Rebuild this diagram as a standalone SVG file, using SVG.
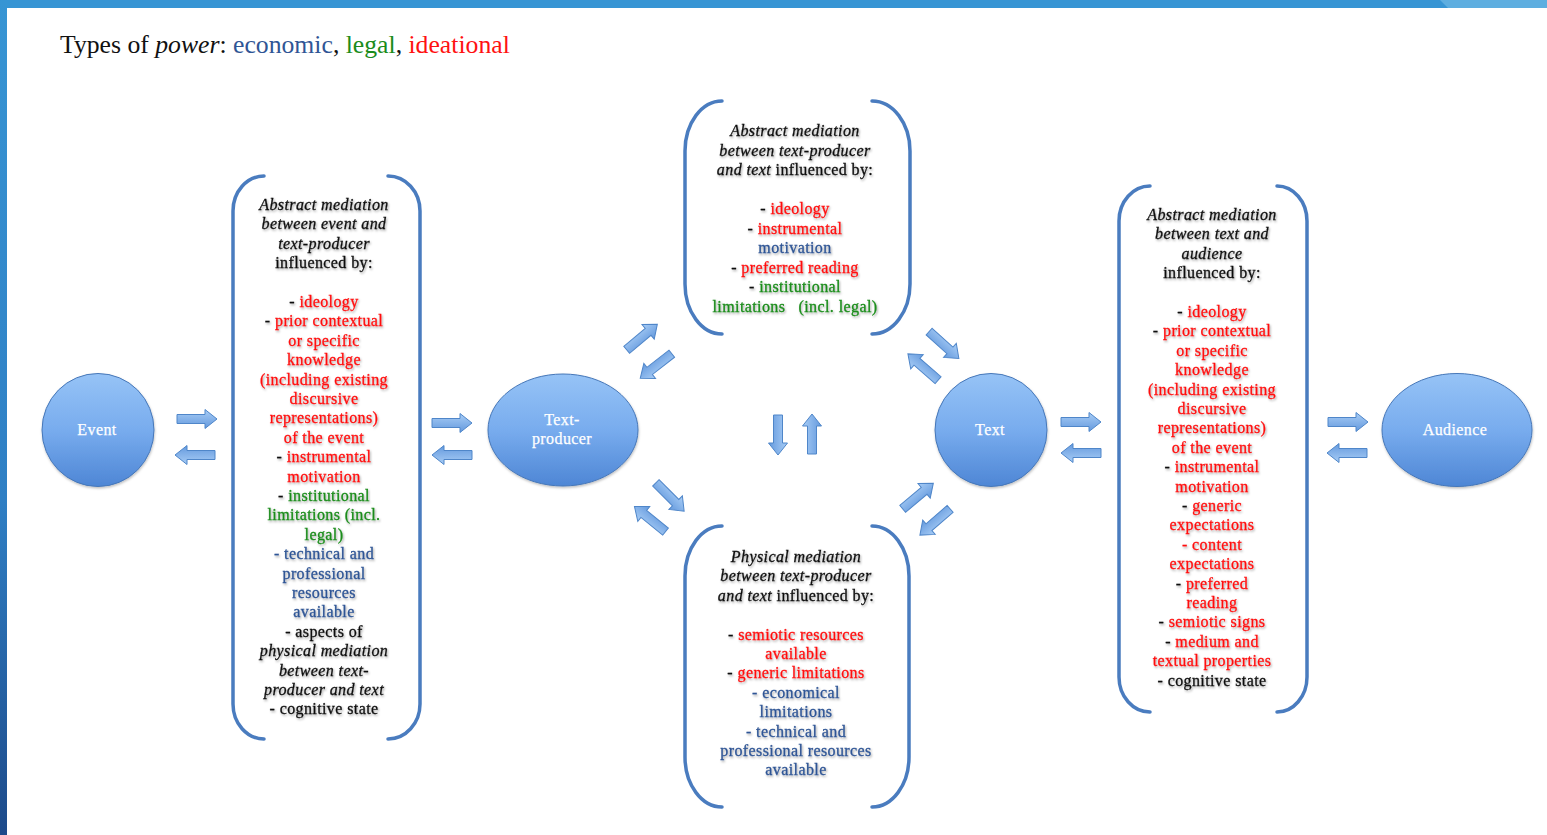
<svg xmlns="http://www.w3.org/2000/svg" width="1547" height="835" viewBox="0 0 1547 835">
<defs>
<linearGradient id="gNode" x1="0" y1="0" x2="0" y2="1">
<stop offset="0" stop-color="#96c3f6"/><stop offset="0.5" stop-color="#78acee"/><stop offset="1" stop-color="#4e86d5"/>
</linearGradient>
<linearGradient id="gArrow" x1="0" y1="0" x2="0" y2="1">
<stop offset="0" stop-color="#a8cdf6"/><stop offset="1" stop-color="#6499dd"/>
</linearGradient>
<linearGradient id="gLeft" x1="0" y1="0" x2="0" y2="1">
<stop offset="0" stop-color="#3795d4"/><stop offset="0.6" stop-color="#2f7fc4"/><stop offset="1" stop-color="#1d4a8a"/>
</linearGradient>
<filter id="sh" x="-10%" y="-30%" width="120%" height="160%">
<feDropShadow dx="1" dy="1.5" stdDeviation="1" flood-color="#000" flood-opacity="0.35"/>
</filter>
<filter id="shs" x="-10%" y="-10%" width="120%" height="120%">
<feDropShadow dx="0.5" dy="1.5" stdDeviation="1" flood-color="#000" flood-opacity="0.25"/>
</filter>
<path id="arr" d="M-20,-4.5 H8 V-9.5 L20,0 L8,9.5 V4.5 H-20 Z"/>
</defs>
<style>
.t{font-family:"Liberation Serif","Times New Roman",serif;font-size:16px;letter-spacing:0.4px;text-anchor:middle;stroke-width:0.3px}
.i{font-style:italic}
.k{fill:#111;stroke:#111}
.r{fill:#ff1111;stroke:#ff1111}
.g{fill:#1b8c1b;stroke:#1b8c1b}
.b{fill:#2f5595;stroke:#2f5595}
.node{fill:url(#gNode);stroke:#4677b8;stroke-width:1}
.nl{font-family:"Liberation Serif","Times New Roman",serif;font-size:16px;letter-spacing:0.4px;fill:#fff;stroke:#fff;stroke-width:0.25px;text-anchor:middle}
.br{fill:none;stroke:#4a7cbf;stroke-width:3.5;stroke-linecap:round}
.ar{fill:url(#gArrow);stroke:#4f86c9;stroke-width:1}
</style>
<rect x="0" y="0" width="1547" height="835" fill="#fff"/>
<g id="frame">
<rect x="0" y="0" width="1547" height="8" fill="#3795d4"/>
<polygon points="1440,0 1547,0 1547,8 1448,8" fill="#5eaee0"/>
<rect x="0" y="0" width="7" height="835" fill="url(#gLeft)"/>
</g>
<g id="title" font-family="'Liberation Serif','Times New Roman',serif" font-size="25.7">
<text x="60" y="53"><tspan fill="#111">Types of </tspan><tspan fill="#111" font-style="italic">power</tspan><tspan fill="#111">: </tspan><tspan fill="#2f5595">economic</tspan><tspan fill="#111">, </tspan><tspan fill="#1b8c1b">legal</tspan><tspan fill="#111">, </tspan><tspan fill="#ff1111">ideational</tspan></text>
</g>

<g id="node-event">
<ellipse class="node" cx="98" cy="430" rx="56" ry="56.5" filter="url(#shs)"/>
<text class="nl" x="97" y="435">Event</text>
</g>
<g id="node-textproducer">
<ellipse class="node" cx="563" cy="430" rx="75" ry="56" filter="url(#shs)"/>
<text class="nl" x="562" y="425">Text-</text>
<text class="nl" x="562" y="444">producer</text>
</g>
<g id="node-text">
<ellipse class="node" cx="991" cy="430" rx="56" ry="56.5" filter="url(#shs)"/>
<text class="nl" x="990" y="435">Text</text>
</g>
<g id="node-audience">
<ellipse class="node" cx="1457" cy="430" rx="75" ry="56.5" filter="url(#shs)"/>
<text class="nl" x="1455" y="435">Audience</text>
</g>

<g id="box-left">
<path class="br" d="M264,176 A31,35 0 0 0 233,211 V704 A31,35 0 0 0 264,739"/>
<path class="br" d="M388,176 A32,35 0 0 1 420,211 V704 A32,35 0 0 1 388,739"/>
<g filter="url(#sh)">
<text class="t i k" x="324" y="210">Abstract mediation</text>
<text class="t i k" x="324" y="229.4">between event and</text>
<text class="t i k" x="324" y="248.8">text-producer</text>
<text class="t k" x="324" y="268.2">influenced by:</text>
<text class="t" x="324" y="307"><tspan class="k">- </tspan><tspan class="r">ideology</tspan></text>
<text class="t" x="324" y="326.4"><tspan class="k">- </tspan><tspan class="r">prior contextual</tspan></text>
<text class="t r" x="324" y="345.8">or specific</text>
<text class="t r" x="324" y="365.2">knowledge</text>
<text class="t r" x="324" y="384.6">(including existing</text>
<text class="t r" x="324" y="404">discursive</text>
<text class="t r" x="324" y="423.4">representations)</text>
<text class="t r" x="324" y="442.8">of the event</text>
<text class="t" x="324" y="462.2"><tspan class="k">- </tspan><tspan class="r">instrumental</tspan></text>
<text class="t r" x="324" y="481.6">motivation</text>
<text class="t" x="324" y="501"><tspan class="k">- </tspan><tspan class="g">institutional</tspan></text>
<text class="t g" x="324" y="520.4">limitations (incl.</text>
<text class="t g" x="324" y="539.8">legal)</text>
<text class="t b" x="324" y="559.2">- technical and</text>
<text class="t b" x="324" y="578.6">professional</text>
<text class="t b" x="324" y="598">resources</text>
<text class="t b" x="324" y="617.4">available</text>
<text class="t k" x="324" y="636.8">- aspects of</text>
<text class="t i k" x="324" y="656.2">physical mediation</text>
<text class="t i k" x="324" y="675.6">between text-</text>
<text class="t i k" x="324" y="695">producer and text</text>
<text class="t k" x="324" y="714.4">- cognitive state</text>
</g>
</g>

<g id="box-top">
<path class="br" d="M722,101 A37,50 0 0 0 685,151 V284 A37,50 0 0 0 722,334"/>
<path class="br" d="M872,101 A38,50 0 0 1 910,151 V284 A38,50 0 0 1 872,334"/>
<g filter="url(#sh)">
<text class="t i k" x="795" y="136">Abstract mediation</text>
<text class="t i k" x="795" y="155.5">between text-producer</text>
<text class="t k" x="795" y="175"><tspan font-style="italic">and text</tspan> influenced by:</text>
<text class="t" x="795" y="214"><tspan class="k">- </tspan><tspan class="r">ideology</tspan></text>
<text class="t" x="795" y="233.5"><tspan class="k">- </tspan><tspan class="r">instrumental</tspan></text>
<text class="t b" x="795" y="253">motivation</text>
<text class="t" x="795" y="272.5"><tspan class="k">- </tspan><tspan class="r">preferred reading</tspan></text>
<text class="t" x="795" y="292"><tspan class="k">- </tspan><tspan class="g">institutional</tspan></text>
<text class="t g" x="795" y="311.5" xml:space="preserve">limitations   (incl. legal)</text>
</g>
</g>

<g id="box-bottom">
<path class="br" d="M722,526 A37,50 0 0 0 685,576 V757 A37,50 0 0 0 722,807"/>
<path class="br" d="M872,526 A37,50 0 0 1 909,576 V757 A37,50 0 0 1 872,807"/>
<g filter="url(#sh)">
<text class="t i k" x="796" y="562">Physical mediation</text>
<text class="t i k" x="796" y="581.4">between text-producer</text>
<text class="t k" x="796" y="600.8"><tspan font-style="italic">and text</tspan> influenced by:</text>
<text class="t" x="796" y="639.6"><tspan class="k">- </tspan><tspan class="r">semiotic resources</tspan></text>
<text class="t r" x="796" y="659">available</text>
<text class="t" x="796" y="678.4"><tspan class="k">- </tspan><tspan class="r">generic limitations</tspan></text>
<text class="t b" x="796" y="697.8">- economical</text>
<text class="t b" x="796" y="717.2">limitations</text>
<text class="t b" x="796" y="736.6">- technical and</text>
<text class="t b" x="796" y="756">professional resources</text>
<text class="t b" x="796" y="775.4">available</text>
</g>
</g>

<g id="box-right">
<path class="br" d="M1150,186 A31,35 0 0 0 1119,221 V677 A31,35 0 0 0 1150,712"/>
<path class="br" d="M1277,186 A30,35 0 0 1 1307,221 V677 A30,35 0 0 1 1277,712"/>
<g filter="url(#sh)">
<text class="t i k" x="1212" y="220">Abstract mediation</text>
<text class="t i k" x="1212" y="239.4">between text and</text>
<text class="t i k" x="1212" y="258.8">audience</text>
<text class="t k" x="1212" y="278.2">influenced by:</text>
<text class="t" x="1212" y="317"><tspan class="k">- </tspan><tspan class="r">ideology</tspan></text>
<text class="t" x="1212" y="336.4"><tspan class="k">- </tspan><tspan class="r">prior contextual</tspan></text>
<text class="t r" x="1212" y="355.8">or specific</text>
<text class="t r" x="1212" y="375.2">knowledge</text>
<text class="t r" x="1212" y="394.6">(including existing</text>
<text class="t r" x="1212" y="414">discursive</text>
<text class="t r" x="1212" y="433.4">representations)</text>
<text class="t r" x="1212" y="452.8">of the event</text>
<text class="t" x="1212" y="472.2"><tspan class="k">- </tspan><tspan class="r">instrumental</tspan></text>
<text class="t r" x="1212" y="491.6">motivation</text>
<text class="t" x="1212" y="511"><tspan class="k">- </tspan><tspan class="r">generic</tspan></text>
<text class="t r" x="1212" y="530.4">expectations</text>
<text class="t r" x="1212" y="549.8">- content</text>
<text class="t r" x="1212" y="569.2">expectations</text>
<text class="t" x="1212" y="588.6"><tspan class="k">- </tspan><tspan class="r">preferred</tspan></text>
<text class="t r" x="1212" y="608">reading</text>
<text class="t" x="1212" y="627.4"><tspan class="k">- </tspan><tspan class="r">semiotic signs</tspan></text>
<text class="t" x="1212" y="646.8"><tspan class="k">- </tspan><tspan class="r">medium and</tspan></text>
<text class="t r" x="1212" y="666.2">textual properties</text>
<text class="t k" x="1212" y="685.6">- cognitive state</text>
</g>
</g>

<g id="connectors">
<use href="#arr" class="ar" transform="translate(197,419)"/>
<use href="#arr" class="ar" transform="translate(195,455) rotate(180)"/>
<use href="#arr" class="ar" transform="translate(452,423)"/>
<use href="#arr" class="ar" transform="translate(452,455) rotate(180)"/>
<use href="#arr" class="ar" transform="translate(642,337) rotate(-40)"/>
<use href="#arr" class="ar" transform="translate(656,366) rotate(142)"/>
<use href="#arr" class="ar" transform="translate(670,497) rotate(45)"/>
<use href="#arr" class="ar" transform="translate(650,519) rotate(219)"/>
<use href="#arr" class="ar" transform="translate(778,435) rotate(90)"/>
<use href="#arr" class="ar" transform="translate(812,434) rotate(-90)"/>
<use href="#arr" class="ar" transform="translate(944,345) rotate(42)"/>
<use href="#arr" class="ar" transform="translate(923,367) rotate(221)"/>
<use href="#arr" class="ar" transform="translate(918,496) rotate(-40)"/>
<use href="#arr" class="ar" transform="translate(935,522) rotate(139)"/>
<use href="#arr" class="ar" transform="translate(1081,422)"/>
<use href="#arr" class="ar" transform="translate(1081,453) rotate(180)"/>
<use href="#arr" class="ar" transform="translate(1348,422)"/>
<use href="#arr" class="ar" transform="translate(1347,453) rotate(180)"/>
</g>
</svg>
